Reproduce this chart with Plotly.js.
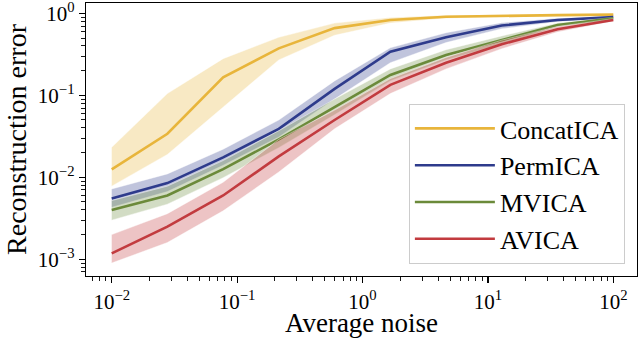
<!DOCTYPE html>
<html>
<head>
<meta charset="utf-8">
<script src="https://cdn.plot.ly/plotly-3.0.1.min.js"></script>
<style>
  html, body { margin: 0; padding: 0; background: #fff; }
  #chart { width: 640px; height: 338px; }
</style>
</head>
<body>
<div id="chart"></div>
<script>
// noise levels (x) and reconstruction error per method
const noise = [0.01, 0.0278, 0.0774, 0.215, 0.599, 1.668, 4.64, 12.9, 35.9, 100];

const concatMean  = [0.0125, 0.034, 0.166, 0.374, 0.66, 0.83, 0.91, 0.935, 0.95, 0.965];
const concatUpper = [0.0232, 0.105, 0.28, 0.51, 0.76, 0.89, 0.95, 0.965, 0.975, 0.982];
const concatLower = [0.0078, 0.019, 0.071, 0.27, 0.54, 0.76, 0.87, 0.9, 0.925, 0.945];

const permMean  = [0.0055, 0.0085, 0.0175, 0.039, 0.12, 0.34, 0.51, 0.71, 0.83, 0.90];
const permUpper = [0.0072, 0.011, 0.022, 0.05, 0.15, 0.38, 0.58, 0.77, 0.87, 0.92];
const permLower = [0.0043, 0.0067, 0.014, 0.031, 0.09, 0.25, 0.44, 0.65, 0.79, 0.88];

const mvMean  = [0.004, 0.006, 0.0126, 0.029, 0.072, 0.177, 0.31, 0.47, 0.72, 0.87];
const mvUpper = [0.0052, 0.0078, 0.016, 0.037, 0.09, 0.21, 0.36, 0.53, 0.76, 0.89];
const mvLower = [0.003, 0.0047, 0.0099, 0.023, 0.058, 0.15, 0.27, 0.42, 0.68, 0.85];

const avMean  = [0.00118, 0.0025, 0.006, 0.018, 0.05, 0.134, 0.25, 0.42, 0.64, 0.83];
const avUpper = [0.002, 0.0036, 0.0087, 0.029, 0.066, 0.16, 0.29, 0.47, 0.69, 0.86];
const avLower = [0.0009, 0.0016, 0.0039, 0.0116, 0.039, 0.105, 0.21, 0.37, 0.59, 0.80];

// tick positions and labels
const xTickVals = [0.01, 0.1, 1, 10, 100];
const xTickText = ['10<sup>−2</sup>', '10<sup>−1</sup>', '10<sup>0</sup>', '10<sup>1</sup>', '10<sup>2</sup>'];
const yTickVals = [0.001, 0.01, 0.1, 1];
const yTickText = ['10<sup>−3</sup>', '10<sup>−2</sup>', '10<sup>−1</sup>', '10<sup>0</sup>'];

const methods = [
  { name: 'ConcatICA', mean: concatMean, upper: concatUpper, lower: concatLower, color: [232, 181, 59] },
  { name: 'PermICA',   mean: permMean,   upper: permUpper,   lower: permLower,   color: [46, 59, 140] },
  { name: 'MVICA',     mean: mvMean,     upper: mvUpper,     lower: mvLower,     color: [107, 138, 58] },
  { name: 'AVICA',     mean: avMean,     upper: avUpper,     lower: avLower,     color: [194, 59, 63] }
];

const rgb = (c, a) => a === undefined ? `rgb(${c.join(',')})` : `rgba(${c.join(',')},${a})`;

const traces = [];
methods.forEach((m, i) => {
  // shaded band
  traces.push({
    x: noise.concat(noise.slice().reverse()),
    y: m.upper.concat(m.lower.slice().reverse()),
    type: 'scatter', mode: 'lines',
    fill: 'toself',
    fillcolor: rgb(m.color, 0.3),
    line: { color: 'rgba(255,255,255,0.7)', width: 0.6 },
    hoverinfo: 'skip',
    showlegend: false,
    legendgroup: 'g' + i
  });
  // mean line
  traces.push({
    x: noise, y: m.mean,
    type: 'scatter', mode: 'lines',
    name: m.name,
    line: { color: rgb(m.color), width: 2.6 },
    legendgroup: 'g' + i
  });
});

const serif = "'Liberation Serif', 'DejaVu Serif', serif";

const axisBase = {
  type: 'log',
  showgrid: false,
  zeroline: false,
  showline: true,
  mirror: true,
  linecolor: '#000',
  linewidth: 1.3,
  ticks: 'outside',
  ticklen: 6,
  tickwidth: 1.2,
  tickcolor: '#000',
  tickmode: 'array',
  ticklabeloverflow: 'allow',
  tickfont: { family: serif, size: 21, color: '#000' },
  minor: { ticks: 'outside', ticklen: 3.5, tickwidth: 0.9, tickcolor: '#000', dtick: 'D1', showgrid: false }
};

const layout = {
  width: 640, height: 338,
  margin: { l: 86, r: 3, t: 3, b: 62 },
  paper_bgcolor: '#fff',
  plot_bgcolor: '#fff',
  font: { family: serif, color: '#000' },
  xaxis: {
    ...axisBase,
    range: [-2.205, 2.189],
    tickvals: xTickVals, ticktext: xTickText,
    title: { text: 'Average noise', font: { family: serif, size: 27 }, standoff: 9 }
  },
  yaxis: {
    ...axisBase,
    range: [-3.204, 0.126],
    tickvals: yTickVals, ticktext: yTickText,
    title: { text: 'Reconstruction error', font: { family: serif, size: 28 }, standoff: 3 }
  },
  legend: {
    x: 0.978, xanchor: 'right',
    y: 0.63, yanchor: 'top',
    bgcolor: 'rgba(255,255,255,0.85)',
    bordercolor: '#cccccc',
    borderwidth: 1,
    font: { family: serif, size: 26, color: '#000' },
    traceorder: 'grouped',
    tracegroupgap: 0,
    itemwidth: 80
  },
  showlegend: true
};

Plotly.newPlot('chart', traces, layout, { displayModeBar: false, staticPlot: true });
</script>
</body>
</html>
